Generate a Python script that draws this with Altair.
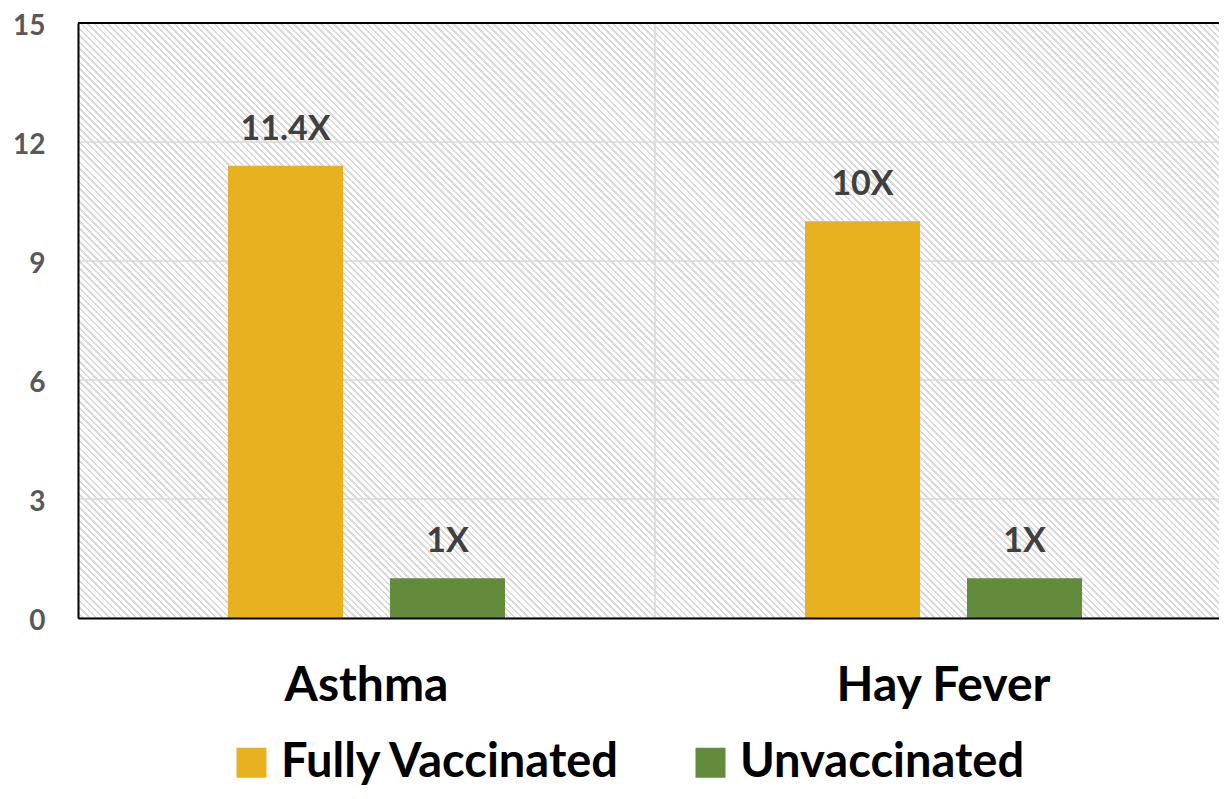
import math
import altair as alt
import pandas as pd

categories = ["Asthma", "Hay Fever"]
groups = ["Fully Vaccinated", "Unvaccinated"]
fully_vaccinated = [11.4, 10]
unvaccinated = [1, 1]
labels_fully = ["11.4X", "10X"]
labels_unvacc = ["1X", "1X"]
y_ticks = [0, 3, 6, 9, 12, 15]
colors = ["#E8B120", "#628C3B"]

rows = []
for i, c in enumerate(categories):
    rows.append({"cat": c, "group": groups[0], "value": fully_vaccinated[i], "label": labels_fully[i]})
    rows.append({"cat": c, "group": groups[1], "value": unvaccinated[i], "label": labels_unvacc[i]})
df = pd.DataFrame(rows)

W, H = 1141, 595      # visible plot area
XR = 1154             # full band range (plot runs past the right edge)
FONT = "Lato"

# diagonal hatch pattern for the plot background, as a striped gradient
period = 4.7
L = (W + H) / math.sqrt(2)
n = int(L / period)
stops = []
for k in range(n):
    a = k / n
    b = (k + 0.62) / n
    c = (k + 1) / n
    stops += [
        {"offset": a, "color": "#ffffff"},
        {"offset": b, "color": "#ffffff"},
        {"offset": b, "color": "#dadada"},
        {"offset": c, "color": "#dadada"},
    ]
t = (W + H) / (W * W + H * H)
grad = {"gradient": "linear", "x1": 0, "y1": 1, "x2": t * W, "y2": 1 - t * H, "stops": stops}

xs = alt.Scale(domain=categories, range=[0, XR], paddingInner=0, paddingOuter=0)
ys = alt.Scale(domain=[0, 15], nice=False)
xo = alt.Scale(domain=groups, paddingInner=0.29, paddingOuter=0.926)

bg = alt.Chart(alt.Data(values=[{"a": 1}])).mark_rect(fill=grad, strokeWidth=0).encode(
    x=alt.value(0), x2=alt.value("width"), y=alt.value(0), y2=alt.value("height")
)

hgrid = alt.Chart(pd.DataFrame({"v": y_ticks})).mark_rule(color="#d9d9d9", strokeWidth=1.5).encode(
    y=alt.Y("v:Q", scale=ys, title=None)
)

vgrid = alt.Chart(pd.DataFrame({"cat": categories[1:]})).mark_rule(color="#d9d9d9", strokeWidth=1.5).encode(
    x=alt.X("cat:N", scale=xs, sort=categories, bandPosition=0, title=None)
)

bars = alt.Chart(df).mark_bar().encode(
    x=alt.X(
        "cat:N",
        scale=xs,
        sort=categories,
        title=None,
        axis=alt.Axis(
            labelFont=FONT, labelFontSize=48, labelFontWeight="bold", labelColor="#000000",
            labelPadding=82, labelAngle=0, labelAlign="center", labelBaseline="alphabetic",
            labelLimit=600, ticks=False, domainColor="#000000", domainWidth=2,
            grid=False, zindex=1, bandPosition=0.5,
        ),
    ),
    xOffset=alt.XOffset("group:N", scale=xo, sort=groups),
    y=alt.Y(
        "value:Q",
        scale=ys,
        title=None,
        axis=alt.Axis(
            values=y_ticks, labelFont=FONT, labelFontSize=28, labelFontWeight="bold",
            labelColor="#595959", labelPadding=33, labelOffset=3, ticks=False,
            domainColor="#000000", domainWidth=2, grid=False, zindex=1,
        ),
    ),
    color=alt.Color(
        "group:N",
        scale=alt.Scale(domain=groups, range=colors),
        legend=alt.Legend(
            orient="none", legendX=150, legendY=716, direction="horizontal", title=None,
            symbolType="square", symbolSize=900, symbolStrokeWidth=0, labelFont=FONT,
            labelFontSize=47, labelFontWeight="bold", labelColor="#000000", labelOffset=6,
            columnPadding=66, padding=0, labelLimit=0,
        ),
    ),
)

text = alt.Chart(df).mark_text(
    font=FONT, fontSize=34, fontWeight="bold", color="#404040", baseline="alphabetic", dy=-26
).encode(
    x=alt.X("cat:N", scale=xs, sort=categories, title=None),
    xOffset=alt.XOffset("group:N", scale=xo, sort=groups),
    y=alt.Y("value:Q", scale=ys, title=None),
    text="label:N",
)

top = alt.Chart(pd.DataFrame({"v": [y_ticks[-1]]})).mark_rule(color="#000000", strokeWidth=2).encode(
    y=alt.Y("v:Q", scale=ys, title=None)
)

chart = (
    alt.layer(bg, hgrid, vgrid, bars, text, top)
    .properties(
        width=W,
        height=H,
        autosize=alt.AutoSizeParams(type="none"),
        padding={"left": 70, "top": 15, "right": 0, "bottom": 169},
    )
    .configure_view(stroke=None)
)

chart.save("out.html", embed_options={"renderer": "svg", "actions": False})
